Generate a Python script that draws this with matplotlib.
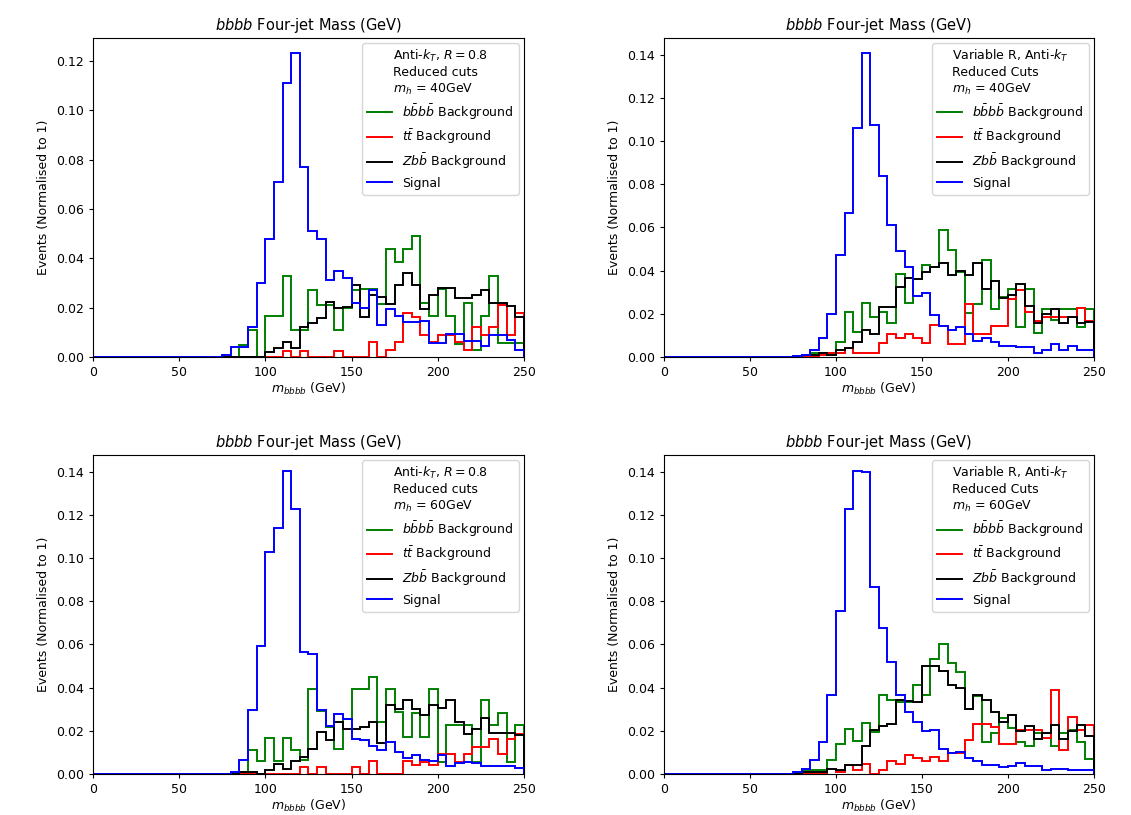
import numpy as np
import matplotlib
matplotlib.use("Agg")
import matplotlib.pyplot as plt
from matplotlib.lines import Line2D

plt.rcParams["font.size"] = 9
plt.rcParams["xtick.major.size"] = 3.2
plt.rcParams["ytick.major.size"] = 3.2
plt.rcParams["axes.linewidth"] = 0.8

# Bin edges: 0-250 GeV in 5 GeV bins; listed values start at the 75 GeV bin
bin_width = 5
m_max = 250
first_bin = 75

# ---------------- Top-left: Anti-kT R=0.8, m_h = 40 GeV ----------------
tl_bbbb = [0, 0, 0.005, 0.011, 0, 0.0166, 0.0166, 0.033, 0.011, 0.011,
           0.027, 0.021, 0.021, 0.011, 0.020, 0.027, 0.0276, 0.0276, 0.0216, 0.0436,
           0.0383, 0.0436, 0.049, 0.0218, 0.0165, 0.0276, 0.0165, 0.0052, 0.0218, 0.0028,
           0.0165, 0.033, 0.0055, 0.0055, 0.0055]
tl_tt = [0, 0, 0, 0, 0, 0, 0, 0.0023, 0, 0.0023,
         0, 0, 0, 0.0023, 0, 0, 0, 0.0059, 0, 0.0028,
         0.0059, 0.0178, 0.0162, 0.0091, 0.0059, 0.0091, 0.0091, 0.0059, 0.0028, 0.0122,
         0.0091, 0.0122, 0.0209, 0.0091, 0.0178]
tl_zbb = [0, 0, 0, 0, 0, 0.002, 0.0036, 0.006, 0.0036, 0.012,
          0.0137, 0.0157, 0.0224, 0.0197, 0.0204, 0.029, 0.0163, 0.025, 0.0242, 0.0213,
          0.029, 0.034, 0.029, 0.0195, 0.025, 0.028, 0.028, 0.024, 0.024, 0.025,
          0.027, 0.022, 0.022, 0.0205, 0.016]
tl_sig = [0.001, 0.004, 0.004, 0.012, 0.030, 0.048, 0.071, 0.111, 0.123, 0.077,
          0.051, 0.048, 0.031, 0.035, 0.032, 0.022, 0.020, 0.027, 0.013, 0.0195,
          0.0166, 0.0142, 0.0142, 0.0146, 0.0057, 0.0057, 0.0092, 0.0092, 0.0065, 0.0065,
          0.0044, 0.0088, 0.0088, 0.0068, 0.0028]

# ---------------- Top-right: Variable R, m_h = 40 GeV ----------------
tr_bbbb = [0, 0, 0.002, 0.002, 0.002, 0.0069, 0.0206, 0.0115, 0.0249, 0.0187,
           0.0207, 0.0157, 0.0384, 0.0249, 0.0361, 0.0428, 0.0416, 0.0586, 0.0496, 0.0393,
           0.0204, 0.0247, 0.0451, 0.0224, 0.0278, 0.0316, 0.0137, 0.0316, 0.0112, 0.0224,
           0.017, 0.0224, 0.0224, 0.014, 0.0224]
tr_tt = [0, 0, 0, 0.001, 0.002, 0.002, 0.004, 0.002, 0.002, 0.002,
         0.0064, 0.0106, 0.009, 0.0106, 0.0086, 0.0064, 0.0146, 0.0143, 0.006, 0.006,
         0.0247, 0.0106, 0.0106, 0.0143, 0.0143, 0.0267, 0.0309, 0.0209, 0.0167, 0.0186,
         0.0186, 0.0186, 0.0186, 0.0229, 0.0167]
tr_zbb = [0, 0.001, 0.001, 0.002, 0.001, 0.003, 0.004, 0.007, 0.0123, 0.0107,
          0.0233, 0.0233, 0.0326, 0.0367, 0.0361, 0.0395, 0.0418, 0.0436, 0.0378, 0.0398,
          0.0378, 0.0436, 0.0316, 0.0352, 0.0275, 0.0286, 0.0339, 0.0235, 0.0158, 0.0201,
          0.0224, 0.0158, 0.0186, 0.0155, 0.0163]
tr_sig = [0.0005, 0.001, 0.003, 0.009, 0.0198, 0.0474, 0.0666, 0.1058, 0.1405, 0.1073,
          0.084, 0.061, 0.049, 0.0418, 0.0284, 0.0298, 0.0193, 0.0143, 0.0124, 0.0137,
          0.0106, 0.0075, 0.0089, 0.0071, 0.0051, 0.0051, 0.0045, 0.0045, 0.0017, 0.0032,
          0.0058, 0.0032, 0.0051, 0.0032, 0.0032]

# ---------------- Bottom-left: Anti-kT R=0.8, m_h = 60 GeV ----------------
bl_bbbb = [0, 0, 0.001, 0.011, 0.006, 0.0167, 0.006, 0.0167, 0.011, 0.0064,
           0.0395, 0.029, 0.0218, 0.0115, 0.0256, 0.0395, 0.0395, 0.0451, 0.0241, 0.0395,
           0.0287, 0.0172, 0.0282, 0.0172, 0.0395, 0.0057, 0.0226, 0.0226, 0.0226, 0.0057,
           0.0341, 0.0226, 0.0282, 0.0057, 0.0226]
bl_tt = [0, 0.001, 0, 0, 0, 0, 0, 0, 0, 0.0034,
         0, 0.0034, 0, 0, 0, 0.0034, 0, 0.006, 0, 0,
         0, 0.006, 0.004, 0.0057, 0.004, 0.0092, 0.0092, 0.0057, 0.0092, 0.0126,
         0.0126, 0.016, 0.0092, 0.016, 0.0187]
bl_zbb = [0, 0, 0.001, 0.001, 0, 0.0018, 0.0046, 0.0023, 0.006, 0.0081,
          0.0118, 0.0195, 0.0157, 0.0241, 0.021, 0.021, 0.0218, 0.0241, 0.0144, 0.0321,
          0.0303, 0.0344, 0.0303, 0.0272, 0.0318, 0.0307, 0.0344, 0.0241, 0.0187, 0.021,
          0.0257, 0.0192, 0.0192, 0.0192, 0.018]
bl_sig = [0, 0.001, 0.0064, 0.0295, 0.0591, 0.1027, 0.1139, 0.1405, 0.1227, 0.0563,
          0.0556, 0.0295, 0.0223, 0.028, 0.0256, 0.0161, 0.0157, 0.013, 0.011, 0.0146,
          0.0103, 0.0075, 0.0088, 0.0064, 0.006, 0.0088, 0.0037, 0.0049, 0.0054, 0.0049,
          0.0037, 0.0039, 0.0037, 0.0039, 0.0029]

# ---------------- Bottom-right: Variable R, m_h = 60 GeV ----------------
br_bbbb = [0, 0.002, 0.002, 0.002, 0.0064, 0.0137, 0.021, 0.0152, 0.0236, 0.0195,
           0.0367, 0.0341, 0.0333, 0.0333, 0.041, 0.0367, 0.0533, 0.0602, 0.0514, 0.0474,
           0.030, 0.036, 0.0149, 0.019, 0.0257, 0.0215, 0.0149, 0.013, 0.019, 0.019,
           0.013, 0.019, 0.0203, 0.0149, 0.0068]
br_tt = [0, 0, 0, 0, 0.0023, 0.001, 0.004, 0.0018, 0.0048, 0,
         0.0018, 0.006, 0.0048, 0.009, 0.0072, 0.006, 0.0078, 0.0061, 0.0095, 0.0095,
         0.0157, 0.023, 0.023, 0.0219, 0.0141, 0.0141, 0.0203, 0.0203, 0.0203, 0.0167,
         0.0387, 0.011, 0.0264, 0.0203, 0.0225]
br_zbb = [0, 0.001, 0.001, 0.001, 0.0023, 0.0018, 0.0041, 0.0041, 0.013, 0.0203,
          0.0223, 0.0233, 0.0341, 0.0336, 0.0333, 0.0499, 0.0502, 0.0479, 0.041, 0.0399,
          0.0303, 0.0367, 0.0341, 0.0287, 0.0241, 0.0272, 0.0198, 0.0221, 0.0164, 0.019,
          0.0226, 0.0164, 0.0198, 0.0227, 0.0175]
br_sig = [0.001, 0.0023, 0.0064, 0.0146, 0.0367, 0.0755, 0.1227, 0.1405, 0.14, 0.0867,
          0.0674, 0.052, 0.0364, 0.0287, 0.0241, 0.0198, 0.0203, 0.0114, 0.0095, 0.0103,
          0.0072, 0.0061, 0.0041, 0.0041, 0.0034, 0.0037, 0.0052, 0.0037, 0.0037, 0.0018,
          0.0023, 0.0023, 0.0018, 0.002, 0.002]

legend_titles = [
    "Anti-$k_T$, $R = 0.8$\nReduced cuts\n$m_h$ = 40GeV",
    "Variable R, Anti-$k_T$\nReduced Cuts\n$m_h$ = 40GeV",
    "Anti-$k_T$, $R = 0.8$\nReduced cuts\n$m_h$ = 60GeV",
    "Variable R, Anti-$k_T$\nReduced Cuts\n$m_h$ = 60GeV",
]
series_labels = [r"$b\bar{b}b\bar{b}$ Background", r"$t\bar{t}$ Background",
                 r"$Zb\bar{b}$ Background", "Signal"]
series_colors = ["green", "red", "black", "blue"]

panels = [
    (tl_bbbb, tl_tt, tl_zbb, tl_sig),
    (tr_bbbb, tr_tt, tr_zbb, tr_sig),
    (bl_bbbb, bl_tt, bl_zbb, bl_sig),
    (br_bbbb, br_tt, br_zbb, br_sig),
]

edges = np.arange(0, m_max + bin_width, bin_width)
n_bins = len(edges) - 1
n_lead = first_bin // bin_width

fig = plt.figure(figsize=(11.31, 8.15), dpi=100)
positions = [
    [0.0822, 0.562, 0.381, 0.391],
    [0.5871, 0.562, 0.380, 0.391],
    [0.0822, 0.0503, 0.381, 0.391],
    [0.5871, 0.0503, 0.380, 0.391],
]

for pos, series, ltitle in zip(positions, panels, legend_titles):
    ax = fig.add_axes(pos)
    for vals, lab, col in zip(series, series_labels, series_colors):
        full = np.concatenate([np.zeros(n_lead), np.asarray(vals, dtype=float)])
        ax.stairs(full, edges, color=col, linewidth=1.4, label=lab)
    ax.set_xlim(0, m_max)
    ax.set_ylim(bottom=0)
    ax.set_title("$bbbb$ Four-jet Mass (GeV)", fontsize=10.5)
    ax.set_xlabel("$m_{bbbb}$ (GeV)", labelpad=1.5)
    ax.set_ylabel("Events (Normalised to 1)")
    labels = ax.get_legend_handles_labels()[1]
    proxies = [Line2D([], [], color=c, linewidth=1.4) for c in series_colors]
    ax.legend(proxies, labels, title=ltitle, loc="upper right",
              borderaxespad=0.4, labelspacing=0.45)

fig.savefig("out.png", dpi=100)
